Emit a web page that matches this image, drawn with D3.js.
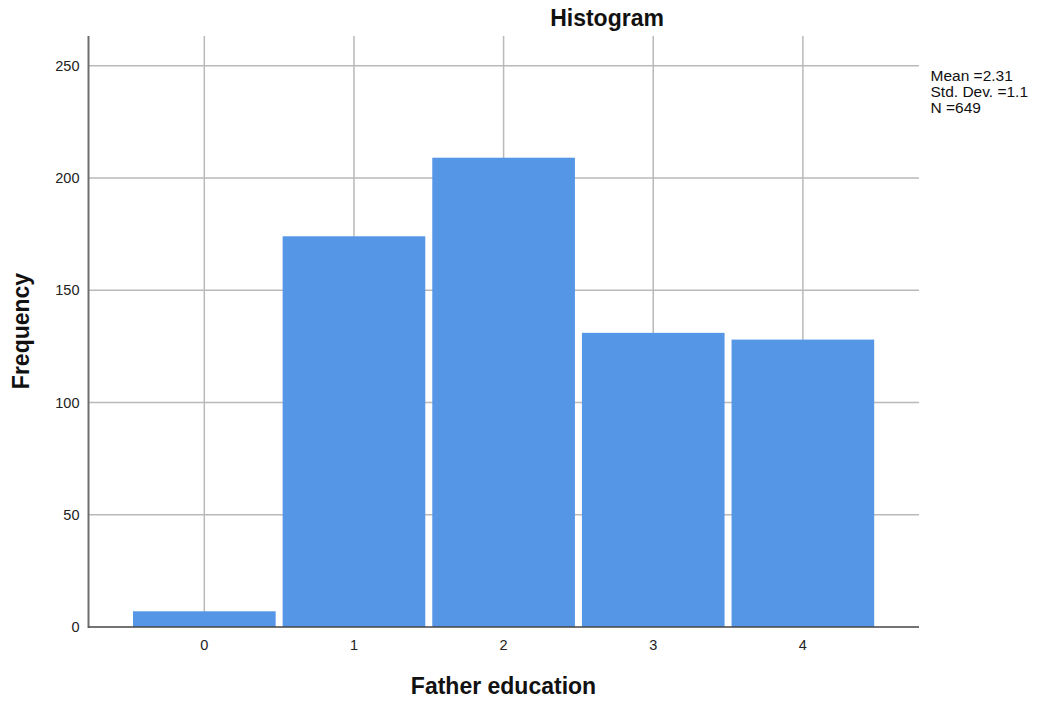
<!DOCTYPE html>
<html>
<head>
<meta charset="utf-8">
<script src="https://cdn.jsdelivr.net/npm/d3@7"></script>
<style>
  html, body { margin: 0; padding: 0; background: #fff; }
  svg { display: block; font-family: "Liberation Sans", Arial, sans-serif; }
</style>
</head>
<body>
<svg id="chart" width="1039" height="702"></svg>
<script>
// ---- data ----
const categories = [0, 1, 2, 3, 4];
const frequencies = [7, 174, 209, 131, 128];
const yTicks = [0, 50, 100, 150, 200, 250];
const statsLines = ["Mean =2.31", "Std. Dev. =1.1", "N =649"];
const titleText = "Histogram";
const xLabel = "Father education";
const yLabel = "Frequency";

// ---- layout ----
const svg = d3.select("#chart");
const plotLeft = 88.5, plotRight = 919, plotTop = 36, plotBottom = 627;

const x = d3.scaleLinear().domain([-0.774, 4.776]).range([plotLeft, plotRight]);
const y = d3.scaleLinear().domain([0, 263.2]).range([plotBottom, plotTop]);

const gridColor = "#b9b9b9";

// gridlines
svg.append("g").selectAll("line").data(yTicks.filter(d => d > 0)).join("line")
  .attr("x1", plotLeft).attr("x2", plotRight)
  .attr("y1", d => y(d)).attr("y2", d => y(d))
  .attr("stroke", gridColor).attr("stroke-width", 1.5);
svg.append("g").selectAll("line").data(categories).join("line")
  .attr("x1", d => x(d)).attr("x2", d => x(d))
  .attr("y1", plotTop).attr("y2", plotBottom)
  .attr("stroke", gridColor).attr("stroke-width", 1.5);

// bars
const inset = 3.5;
svg.append("g").selectAll("rect").data(categories).join("rect")
  .attr("x", d => x(d - 0.5) + inset)
  .attr("width", d => x(d + 0.5) - x(d - 0.5) - 2 * inset)
  .attr("y", (d, i) => y(frequencies[i]))
  .attr("height", (d, i) => y(0) - y(frequencies[i]))
  .attr("fill", "#5596e6");

// axes lines
svg.append("line").attr("x1", plotLeft).attr("x2", plotLeft).attr("y1", plotTop).attr("y2", plotBottom + 1)
  .attr("stroke", "#6e6e6e").attr("stroke-width", 2);
svg.append("line").attr("x1", plotLeft).attr("x2", plotRight).attr("y1", plotBottom).attr("y2", plotBottom)
  .attr("stroke", "#444").attr("stroke-width", 1.5);

// tick labels
svg.append("g").selectAll("text").data(yTicks).join("text")
  .attr("x", 79.5).attr("y", d => y(d)).attr("dy", "0.36em")
  .attr("text-anchor", "end").attr("font-size", 14.5).attr("fill", "#222")
  .text(d => d);
svg.append("g").selectAll("text").data(categories).join("text")
  .attr("x", d => x(d)).attr("y", 650)
  .attr("text-anchor", "middle").attr("font-size", 14.5).attr("fill", "#222")
  .text(d => d);

// titles
svg.append("text").attr("x", 607).attr("y", 26).attr("text-anchor", "middle")
  .attr("font-size", 23).attr("font-weight", "bold").attr("fill", "#111").text(titleText);
svg.append("text").attr("x", 503.5).attr("y", 694).attr("text-anchor", "middle")
  .attr("font-size", 23).attr("font-weight", "bold").attr("fill", "#111").text(xLabel);
svg.append("text").attr("transform", "translate(29,331) rotate(-90)").attr("text-anchor", "middle")
  .attr("font-size", 23).attr("font-weight", "bold").attr("fill", "#111").text(yLabel);

// stats
svg.append("g").selectAll("text").data(statsLines).join("text")
  .attr("x", 930.5).attr("y", (d, i) => 81 + i * 16)
  .attr("font-size", 15.5).attr("fill", "#111")
  .text(d => d);
</script>
</body>
</html>
